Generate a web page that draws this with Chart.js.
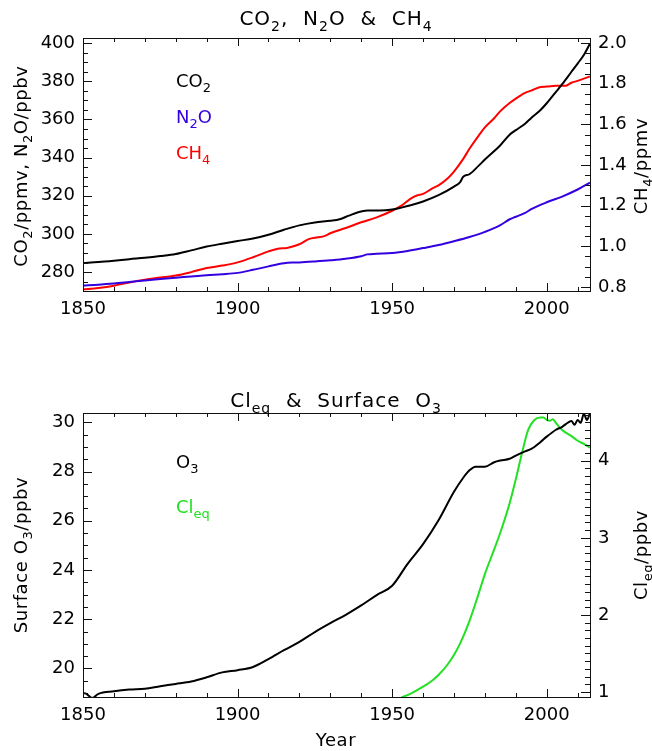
<!DOCTYPE html>
<html>
<head>
<meta charset="utf-8">
<title>CO2, N2O &amp; CH4 / Cleq &amp; Surface O3</title>
<script src="https://cdn.jsdelivr.net/npm/chart.js@4.4.1/dist/chart.umd.min.js"></script>
<style>
  body { margin: 0; background: #fff; }
  #page { position: relative; width: 652px; height: 751px; }
  #page canvas { position: absolute; left: 0; }
</style>
</head>
<body>
<div id="page">
  <canvas id="ghgChart" width="652" height="345" style="top:0"></canvas>
  <canvas id="ozoneChart" width="652" height="406" style="top:345px"></canvas>
</div>
<script>
// ---- data ----
const yearTicks = [1850, 1900, 1950, 2000];

const co2Years  = [1850,1855,1860,1865,1870,1875,1880,1885,1890,1895,1900,1905,1910,1915,1920,1925,1930,1933,1936,1939,1942,1946,1950,1953,1956,1960,1965,1970,1972,1973,1975,1978,1980,1985,1988,1990,1993,1995,1998,2000,2003,2005,2008,2010,2012,2014];
const co2Values = [284.8,285.3,286.0,286.8,287.5,288.4,289.5,291.4,293.4,294.9,296.3,297.6,299.6,302.2,304.5,306.0,306.9,307.7,309.6,311.4,312.3,312.3,312.8,313.8,315.0,317.0,320.3,324.8,327.2,330.0,331.3,335.8,339.0,346.5,352.0,354.4,357.8,360.8,365.0,368.5,374.5,378.5,385.0,389.3,393.8,399.8];

const n2oYears  = [1850,1855,1860,1865,1870,1875,1880,1885,1890,1895,1900,1905,1910,1915,1918,1920,1925,1930,1935,1940,1942,1945,1950,1955,1960,1965,1970,1975,1980,1985,1988,1990,1993,1995,2000,2005,2010,2014];
const n2oValues = [273.0,273.4,274.0,274.8,275.6,276.4,277.1,277.7,278.4,278.9,279.6,281.2,283.0,284.6,285.0,285.1,285.6,286.2,287.0,288.3,289.3,289.6,290.0,291.1,292.6,294.2,296.2,298.4,301.1,304.6,307.7,309.0,311.0,313.0,316.6,319.6,323.3,326.9];

const ch4Years  = [1850,1855,1860,1865,1870,1875,1880,1885,1890,1895,1900,1905,1910,1913,1916,1920,1923,1926,1928,1930,1935,1940,1945,1950,1953,1956,1958,1960,1963,1965,1968,1970,1973,1975,1978,1980,1983,1985,1988,1990,1993,1995,1998,2000,2003,2006,2008,2010,2014];
const ch4Values = [0.788,0.795,0.806,0.822,0.836,0.846,0.856,0.873,0.893,0.905,0.921,0.946,0.975,0.988,0.992,1.010,1.035,1.044,1.050,1.064,1.090,1.118,1.142,1.175,1.200,1.235,1.250,1.258,1.285,1.300,1.335,1.368,1.430,1.480,1.545,1.585,1.630,1.665,1.705,1.727,1.755,1.766,1.784,1.786,1.790,1.790,1.805,1.814,1.836];

const o3Years  = [1850,1851,1853,1855,1860,1865,1870,1875,1880,1885,1890,1895,1900,1905,1910,1915,1920,1925,1930,1935,1940,1945,1950,1955,1960,1965,1970,1973,1975,1977,1980,1983,1985,1988,1990,1993,1995,1998,2000,2003,2005,2007,2008,2009,2010,2011,2012,2013,2014];
const o3Values = [19.00,18.98,18.80,18.97,19.07,19.14,19.18,19.28,19.37,19.47,19.64,19.84,19.93,20.06,20.38,20.74,21.08,21.48,21.84,22.18,22.56,22.98,23.36,24.25,25.05,26.02,27.18,27.75,28.05,28.20,28.20,28.38,28.45,28.52,28.65,28.82,28.92,29.20,29.42,29.70,29.82,30.00,30.05,29.90,30.10,29.98,30.35,30.10,30.38];

const cleqYears  = [1953,1956,1960,1963,1965,1968,1970,1972,1975,1978,1980,1983,1985,1988,1990,1992,1994,1996,1998,1999,2000,2001,2002,2003,2005,2008,2010,2012,2014];
const cleqValues = [0.93,0.98,1.07,1.15,1.22,1.36,1.48,1.63,1.92,2.28,2.53,2.85,3.07,3.45,3.76,4.10,4.40,4.53,4.56,4.56,4.53,4.52,4.54,4.49,4.40,4.32,4.26,4.22,4.17];

const ghgLeftTicks  = [280, 300, 320, 340, 360, 380, 400];
const ch4Ticks      = [0.8, 1.0, 1.2, 1.4, 1.6, 1.8, 2.0];
const o3Ticks       = [20, 22, 24, 26, 28, 30];
const cleqTicks     = [1, 2, 3, 4];

// ---- styling ----
const FONT = '"DejaVu Sans", sans-serif';
const BLACK = '#000000';
const BLUE = '#3300e0';
const RED = '#ff0000';
const GREEN = '#22e022';

Chart.defaults.font.family = FONT;
Chart.defaults.font.size = 18;
Chart.defaults.color = '#000';

function series(xs, ys, color, axis) {
  return {
    data: xs.map((x, i) => ({ x: x, y: ys[i] })),
    yAxisID: axis,
    borderColor: color,
    borderWidth: 2,
    pointRadius: 0,
    cubicInterpolationMode: 'monotone',
    fill: false
  };
}

function xScale(height) {
  return {
    type: 'linear', min: 1850, max: 2014,
    afterBuildTicks: s => { s.ticks = yearTicks.map(v => ({ value: v })); },
    afterFit: s => { s.height = height; },
    grid: { display: false, drawTicks: false },
    border: { display: false },
    ticks: { padding: 8, maxRotation: 0, autoSkip: false, callback: v => String(v) }
  };
}

function yScale(position, min, max, ticks, fmt, width) {
  return {
    type: 'linear', position: position, min: min, max: max,
    afterBuildTicks: s => { s.ticks = ticks.map(v => ({ value: v })); },
    afterFit: s => { s.width = width; },
    grid: { display: false, drawTicks: false },
    border: { display: false },
    ticks: { padding: 8, callback: fmt }
  };
}

// text with _{subscripts}
function parseRich(s) {
  const parts = [];
  const re = /_\{([^}]*)\}/g;
  let last = 0, m;
  while ((m = re.exec(s)) !== null) {
    if (m.index > last) parts.push({ t: s.slice(last, m.index), sub: false });
    parts.push({ t: m[1], sub: true });
    last = re.lastIndex;
  }
  if (last < s.length) parts.push({ t: s.slice(last), sub: false });
  return parts;
}

function drawRich(ctx, item) {
  const size = item.size || 18;
  const parts = parseRich(item.text);
  const fontOf = p => (p.sub ? Math.round(size * 0.7) : size) + 'px ' + FONT;
  ctx.save();
  ctx.letterSpacing = (item.spacing || 0) + 'px';
  let w = 0;
  parts.forEach(p => { ctx.font = fontOf(p); p.w = ctx.measureText(p.t).width; w += p.w; });
  ctx.translate(item.x, item.y);
  if (item.rotate) ctx.rotate(item.rotate * Math.PI / 180);
  ctx.fillStyle = item.color || '#000';
  ctx.textBaseline = 'alphabetic';
  ctx.textAlign = 'left';
  let x = item.align === 'center' ? -w / 2 : 0;
  parts.forEach(p => {
    ctx.font = fontOf(p);
    ctx.fillText(p.t, x, p.sub ? size * 0.3 : 0);
    x += p.w;
  });
  ctx.restore();
}

const richText = {
  id: 'richText',
  afterDraw(chart, args, opts) {
    (opts.items || []).forEach(it => drawRich(chart.ctx, it));
  }
};

// IDL-style box with inward major/minor ticks
function tickLoop(scale, step, majors, cb) {
  const n0 = Math.ceil(scale.min / step - 1e-9), n1 = Math.floor(scale.max / step + 1e-9);
  for (let n = n0; n <= n1; n++) {
    const v = n * step;
    const isMajor = majors.some(m => Math.abs(m - v) < step / 100);
    cb(Math.round(scale.getPixelForValue(v)) + 0.5, isMajor);
  }
}

const idlFrame = {
  id: 'idlFrame',
  afterDatasetsDraw(chart, args, opts) {
    const ctx = chart.ctx, a = chart.chartArea;
    ctx.save();
    ctx.strokeStyle = '#111';
    ctx.lineWidth = 1;
    ctx.beginPath();
    const seg = (x1, y1, x2, y2) => { ctx.moveTo(x1, y1); ctx.lineTo(x2, y2); };
    tickLoop(chart.scales.x, 10, yearTicks, (p, major) => {
      const len = major ? 8 : 4;
      seg(p, a.bottom, p, a.bottom - len);
      seg(p, a.top, p, a.top + len);
    });
    tickLoop(chart.scales.y, opts.yMinor, opts.yMajor, (p, major) => {
      seg(a.left, p, a.left + (major ? 9 : 5), p);
    });
    tickLoop(chart.scales.y2, opts.y2Minor, opts.y2Major, (p, major) => {
      seg(a.right, p, a.right - (major ? 9 : 5), p);
    });
    ctx.stroke();
    ctx.strokeRect(a.left + 0.5, a.top + 0.5, a.right - a.left, a.bottom - a.top);
    ctx.restore();
  }
};

// ---- top panel ----
new Chart(document.getElementById('ghgChart'), {
  type: 'line',
  data: {
    datasets: [
      series(co2Years, co2Values, BLACK, 'y'),
      series(n2oYears, n2oValues, BLUE, 'y'),
      series(ch4Years, ch4Values, RED, 'y2')
    ]
  },
  options: {
    responsive: false,
    animation: false,
    layout: { padding: { top: 38 } },
    scales: {
      x: xScale(54),
      y: yScale('left', 270.1, 402.7, ghgLeftTicks, v => String(v), 83),
      y2: yScale('right', 0.78, 2.025, ch4Ticks, v => v.toFixed(1), 62)
    },
    plugins: {
      legend: { display: false },
      tooltip: { enabled: false },
      idlFrame: { yMajor: ghgLeftTicks, yMinor: 5, y2Major: ch4Ticks, y2Minor: 0.05 },
      richText: {
        items: [
          { text: 'CO_{2},  N_{2}O  &  CH_{4}', x: 336, y: 25, size: 20, spacing: 1, align: 'center' },
          { text: 'CO_{2}', x: 176, y: 87 },
          { text: 'N_{2}O', x: 176, y: 123, color: BLUE },
          { text: 'CH_{4}', x: 176, y: 159, color: RED },
          { text: 'CO_{2}/ppmv, N_{2}O/ppbv', x: 27, y: 166, size: 18, spacing: 0.6, rotate: -90, align: 'center' },
          { text: 'CH_{4}/ppmv', x: 647, y: 166, size: 18, spacing: 0.6, rotate: -90, align: 'center' }
        ]
      }
    }
  },
  plugins: [idlFrame, richText]
});

// ---- bottom panel ----
new Chart(document.getElementById('ozoneChart'), {
  type: 'line',
  data: {
    datasets: [
      series(o3Years, o3Values, BLACK, 'y'),
      series(cleqYears, cleqValues, GREEN, 'y2')
    ]
  },
  options: {
    responsive: false,
    animation: false,
    layout: { padding: { top: 68 } },
    scales: {
      x: xScale(54),
      y: yScale('left', 18.84, 30.38, o3Ticks, v => String(v), 83),
      y2: yScale('right', 0.935, 4.62, cleqTicks, v => String(v), 62)
    },
    plugins: {
      legend: { display: false },
      tooltip: { enabled: false },
      idlFrame: { yMajor: o3Ticks, yMinor: 0.5, y2Major: cleqTicks, y2Minor: 0.1 },
      richText: {
        items: [
          { text: 'Cl_{eq}  &  Surface  O_{3}', x: 336, y: 62, size: 20, spacing: 1, align: 'center' },
          { text: 'O_{3}', x: 176, y: 123 },
          { text: 'Cl_{eq}', x: 176, y: 168, color: GREEN },
          { text: 'Year', x: 336, y: 401, size: 18, spacing: 0.6, align: 'center' },
          { text: 'Surface O_{3}/ppbv', x: 27, y: 210, size: 18, spacing: 0.6, rotate: -90, align: 'center' },
          { text: 'Cl_{eq}/ppbv', x: 647, y: 210, size: 18, spacing: 0.6, rotate: -90, align: 'center' }
        ]
      }
    }
  },
  plugins: [idlFrame, richText]
});
</script>
</body>
</html>
